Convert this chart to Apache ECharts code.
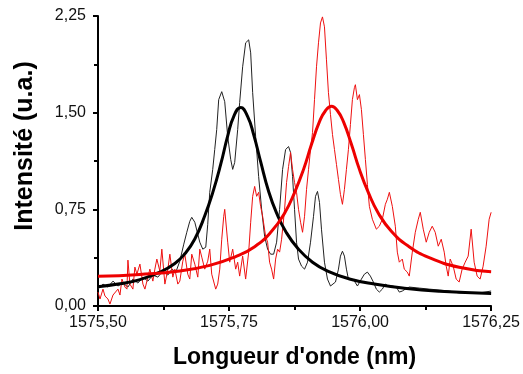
<!DOCTYPE html>
<html><head><meta charset="utf-8">
<script src="https://cdn.jsdelivr.net/npm/echarts@6/dist/echarts.min.js"></script>
<style>html,body{margin:0;padding:0;background:#fff}#c{width:523px;height:374px}</style>
</head><body><div id="c"></div>
<script>
// tick labels
const xTicks = [1575.50, 1575.75, 1576.00, 1576.25];
const yTicks = [0.00, 0.75, 1.50, 2.25];
// black measured spectrum [wavelength nm, intensity]
const blackData = [
[1575.5000,0.131],[1575.5095,0.170],[1575.5190,0.147],[1575.5286,0.193],[1575.5381,0.155],[1575.5476,0.178],
[1575.5571,0.147],[1575.5666,0.209],[1575.5761,0.178],[1575.5857,0.224],[1575.5952,0.193],[1575.6047,0.240],
[1575.6142,0.224],[1575.6237,0.271],[1575.6333,0.240],[1575.6409,0.286],[1575.6485,0.263],[1575.6561,0.348],
[1575.6637,0.480],[1575.6694,0.572],[1575.6751,0.657],[1575.6789,0.688],[1575.6847,0.650],[1575.6904,0.557],
[1575.6942,0.495],[1575.6999,0.441],[1575.7056,0.456],[1575.7094,0.634],[1575.7132,0.882],[1575.7189,1.060],
[1575.7227,1.214],[1575.7265,1.369],[1575.7303,1.601],[1575.7361,1.663],[1575.7418,1.585],[1575.7475,1.315],
[1575.7532,1.137],[1575.7570,1.060],[1575.7608,1.114],[1575.7665,1.369],[1575.7703,1.578],[1575.7760,1.856],
[1575.7817,2.042],[1575.7875,2.065],[1575.7913,1.964],[1575.7951,1.655],[1575.8008,1.315],[1575.8065,1.005],
[1575.8122,0.750],[1575.8179,0.541],[1575.8236,0.441],[1575.8293,0.402],[1575.8351,0.402],[1575.8408,0.495],
[1575.8465,0.750],[1575.8522,1.060],[1575.8579,1.214],[1575.8636,1.237],[1575.8674,1.191],[1575.8712,1.005],
[1575.8750,0.750],[1575.8788,0.495],[1575.8826,0.364],[1575.8884,0.309],[1575.8941,0.286],[1575.8998,0.340],
[1575.9055,0.495],[1575.9112,0.696],[1575.9150,0.851],[1575.9188,0.889],[1575.9226,0.804],[1575.9264,0.596],
[1575.9321,0.340],[1575.9378,0.209],[1575.9436,0.155],[1575.9474,0.155],[1575.9531,0.186],[1575.9588,0.286],
[1575.9626,0.387],[1575.9664,0.425],[1575.9702,0.387],[1575.9740,0.286],[1575.9778,0.209],[1575.9835,0.209],
[1575.9892,0.193],[1575.9950,0.155],[1576.0026,0.209],[1576.0083,0.247],[1576.0140,0.263],[1576.0197,0.232],
[1576.0254,0.186],[1576.0311,0.131],[1576.0368,0.108],[1576.0425,0.131],[1576.0483,0.170],[1576.0540,0.155],
[1576.0616,0.155],[1576.0692,0.147],[1576.0749,0.108],[1576.0806,0.116],[1576.0863,0.131],[1576.0939,0.147],
[1576.1130,0.139],[1576.1320,0.131],[1576.1511,0.124],[1576.1701,0.116],[1576.1891,0.101],[1576.2082,0.101],
[1576.2272,0.101],[1576.2501,0.116]
];
// red measured spectrum [wavelength nm, intensity]
const redData = [
[1575.5000,0.108],[1575.5038,0.054],[1575.5095,0.131],[1575.5133,0.077],[1575.5190,0.054],[1575.5228,0.015],
[1575.5286,0.085],[1575.5324,0.070],[1575.5381,0.131],[1575.5419,0.085],[1575.5457,0.209],[1575.5514,0.147],
[1575.5552,0.131],[1575.5571,0.356],[1575.5609,0.170],[1575.5666,0.131],[1575.5704,0.302],[1575.5742,0.247],
[1575.5800,0.325],[1575.5857,0.170],[1575.5895,0.131],[1575.5952,0.224],[1575.5990,0.286],[1575.6047,0.193],
[1575.6085,0.286],[1575.6123,0.364],[1575.6180,0.271],[1575.6218,0.441],[1575.6276,0.170],[1575.6333,0.286],
[1575.6371,0.402],[1575.6428,0.224],[1575.6466,0.286],[1575.6523,0.170],[1575.6561,0.193],[1575.6618,0.348],
[1575.6656,0.402],[1575.6713,0.247],[1575.6751,0.209],[1575.6789,0.402],[1575.6847,0.325],[1575.6904,0.224],
[1575.6942,0.441],[1575.6980,0.379],[1575.7037,0.286],[1575.7094,0.348],[1575.7132,0.441],[1575.7170,0.247],
[1575.7208,0.247],[1575.7246,0.131],[1575.7284,0.170],[1575.7323,0.286],[1575.7361,0.518],[1575.7399,0.696],
[1575.7418,0.750],[1575.7475,0.495],[1575.7513,0.340],[1575.7570,0.441],[1575.7627,0.286],[1575.7665,0.340],
[1575.7703,0.232],[1575.7760,0.387],[1575.7817,0.209],[1575.7875,0.418],[1575.7913,0.650],[1575.7951,0.851],
[1575.7989,0.928],[1575.8027,0.851],[1575.8065,0.882],[1575.8103,0.773],[1575.8141,0.696],[1575.8198,0.541],
[1575.8236,0.495],[1575.8274,0.340],[1575.8312,0.286],[1575.8351,0.209],[1575.8389,0.364],[1575.8427,0.441],
[1575.8465,0.418],[1575.8503,0.518],[1575.8560,0.750],[1575.8598,0.959],[1575.8636,1.083],[1575.8674,1.191],
[1575.8712,1.060],[1575.8750,0.959],[1575.8788,0.882],[1575.8826,0.750],[1575.8865,0.650],[1575.8903,0.572],
[1575.8941,0.696],[1575.8979,0.905],[1575.9017,1.060],[1575.9055,1.214],[1575.9093,1.346],[1575.9131,1.601],
[1575.9169,1.856],[1575.9207,2.042],[1575.9245,2.196],[1575.9283,2.243],[1575.9321,2.166],[1575.9359,1.910],
[1575.9397,1.655],[1575.9436,1.485],[1575.9474,1.330],[1575.9512,1.214],[1575.9550,1.098],[1575.9588,0.982],
[1575.9626,0.866],[1575.9664,0.789],[1575.9702,0.905],[1575.9740,1.060],[1575.9778,1.214],[1575.9816,1.408],
[1575.9854,1.601],[1575.9892,1.694],[1575.9911,1.717],[1575.9950,1.601],[1575.9988,1.640],[1576.0026,1.524],
[1576.0064,1.330],[1576.0102,1.137],[1576.0140,0.944],[1576.0178,0.773],[1576.0235,0.673],[1576.0311,0.596],
[1576.0368,0.619],[1576.0425,0.673],[1576.0483,0.789],[1576.0521,0.828],[1576.0559,0.882],[1576.0616,0.773],
[1576.0673,0.619],[1576.0711,0.418],[1576.0749,0.340],[1576.0806,0.364],[1576.0844,0.286],[1576.0901,0.263],
[1576.0939,0.232],[1576.0997,0.418],[1576.1054,0.572],[1576.1111,0.673],[1576.1149,0.727],[1576.1206,0.596],
[1576.1263,0.495],[1576.1320,0.572],[1576.1377,0.619],[1576.1434,0.572],[1576.1492,0.464],[1576.1549,0.518],
[1576.1606,0.418],[1576.1644,0.309],[1576.1682,0.232],[1576.1720,0.364],[1576.1777,0.309],[1576.1834,0.209],
[1576.1891,0.186],[1576.1948,0.286],[1576.2006,0.340],[1576.2063,0.387],[1576.2120,0.596],[1576.2177,0.340],
[1576.2234,0.232],[1576.2291,0.209],[1576.2348,0.309],[1576.2406,0.464],[1576.2463,0.673],[1576.2501,0.727]
];
// black fit curve
const blackFit = [
[1575.5000,0.150],[1575.5419,0.172],[1575.5800,0.205],[1575.6180,0.262],[1575.6466,0.330],[1575.6656,0.405],
[1575.6847,0.520],[1575.7037,0.700],[1575.7189,0.880],[1575.7342,1.100],[1575.7475,1.320],[1575.7589,1.470],
[1575.7722,1.540],[1575.7856,1.470],[1575.7970,1.330],[1575.8103,1.120],[1575.8255,0.890],[1575.8408,0.720],
[1575.8579,0.580],[1575.8807,0.450],[1575.9093,0.340],[1575.9417,0.265],[1575.9797,0.210],[1576.0273,0.170],
[1576.0844,0.138],[1576.1511,0.115],[1576.2501,0.097]
];
// red fit curve
const redFit = [
[1575.5000,0.230],[1575.5800,0.245],[1575.6561,0.272],[1575.7132,0.315],[1575.7608,0.380],[1575.7989,0.460],
[1575.8312,0.579],[1575.8560,0.720],[1575.8750,0.880],[1575.8922,1.060],[1575.9074,1.255],[1575.9226,1.430],
[1575.9340,1.515],[1575.9455,1.550],[1575.9569,1.515],[1575.9683,1.430],[1575.9835,1.255],[1575.9988,1.060],
[1576.0159,0.880],[1576.0349,0.720],[1576.0597,0.580],[1576.0920,0.465],[1576.1320,0.375],[1576.1891,0.300],
[1576.2501,0.265]
];

const fmt = v => v.toFixed(2).replace('.', ',');
const chart = echarts.init(document.getElementById('c'), null, {renderer:'canvas'});
const axisCommon = {
  axisLine:{show:true, lineStyle:{color:'#000', width:2}},
  axisTick:{show:true, inside:false, length:5, lineStyle:{color:'#000', width:2}},
  minorTick:{show:true, splitNumber:2, length:4, lineStyle:{color:'#000', width:2}},
  splitLine:{show:false},
  nameLocation:'middle',
  nameTextStyle:{fontFamily:'Liberation Sans', fontWeight:'bold', fontSize:23, color:'#000'}
};
chart.setOption({
  animation:false,
  backgroundColor:'#fff',
  grid:{left:98, right:30, top:16, bottom:67, containLabel:false},
  xAxis:Object.assign({}, axisCommon, {
    type:'value', min:xTicks[0], max:xTicks[xTicks.length-1], interval:0.25,
    name:'Longueur d\'onde (nm)', nameGap:40,
    axisLabel:{formatter:fmt, margin:9, fontFamily:'Liberation Sans', fontSize:16, color:'#111', showMinLabel:true, showMaxLabel:true}
  }),
  yAxis:Object.assign({}, axisCommon, {
    type:'value', min:yTicks[0], max:yTicks[yTicks.length-1], interval:0.75,
    name:'Intensité (u.a.)', nameGap:60,
    nameTextStyle:Object.assign({}, axisCommon.nameTextStyle, {fontSize:25, padding:[0,0,0,30]}),
    axisLabel:{formatter:fmt, margin:12, fontFamily:'Liberation Sans', fontSize:16, color:'#111'}
  }),
  series:[
    {type:'line', data:blackData, showSymbol:false, lineStyle:{color:'#222', width:1}, z:2},
    {type:'line', data:redData, showSymbol:false, lineStyle:{color:'#ee1010', width:1}, z:3},
    {type:'line', data:blackFit, showSymbol:false, smooth:0.5, lineStyle:{color:'#000', width:3}, z:4},
    {type:'line', data:redFit, showSymbol:false, smooth:0.5, lineStyle:{color:'#ee0000', width:3}, z:5}
  ]
});
</script></body></html>
